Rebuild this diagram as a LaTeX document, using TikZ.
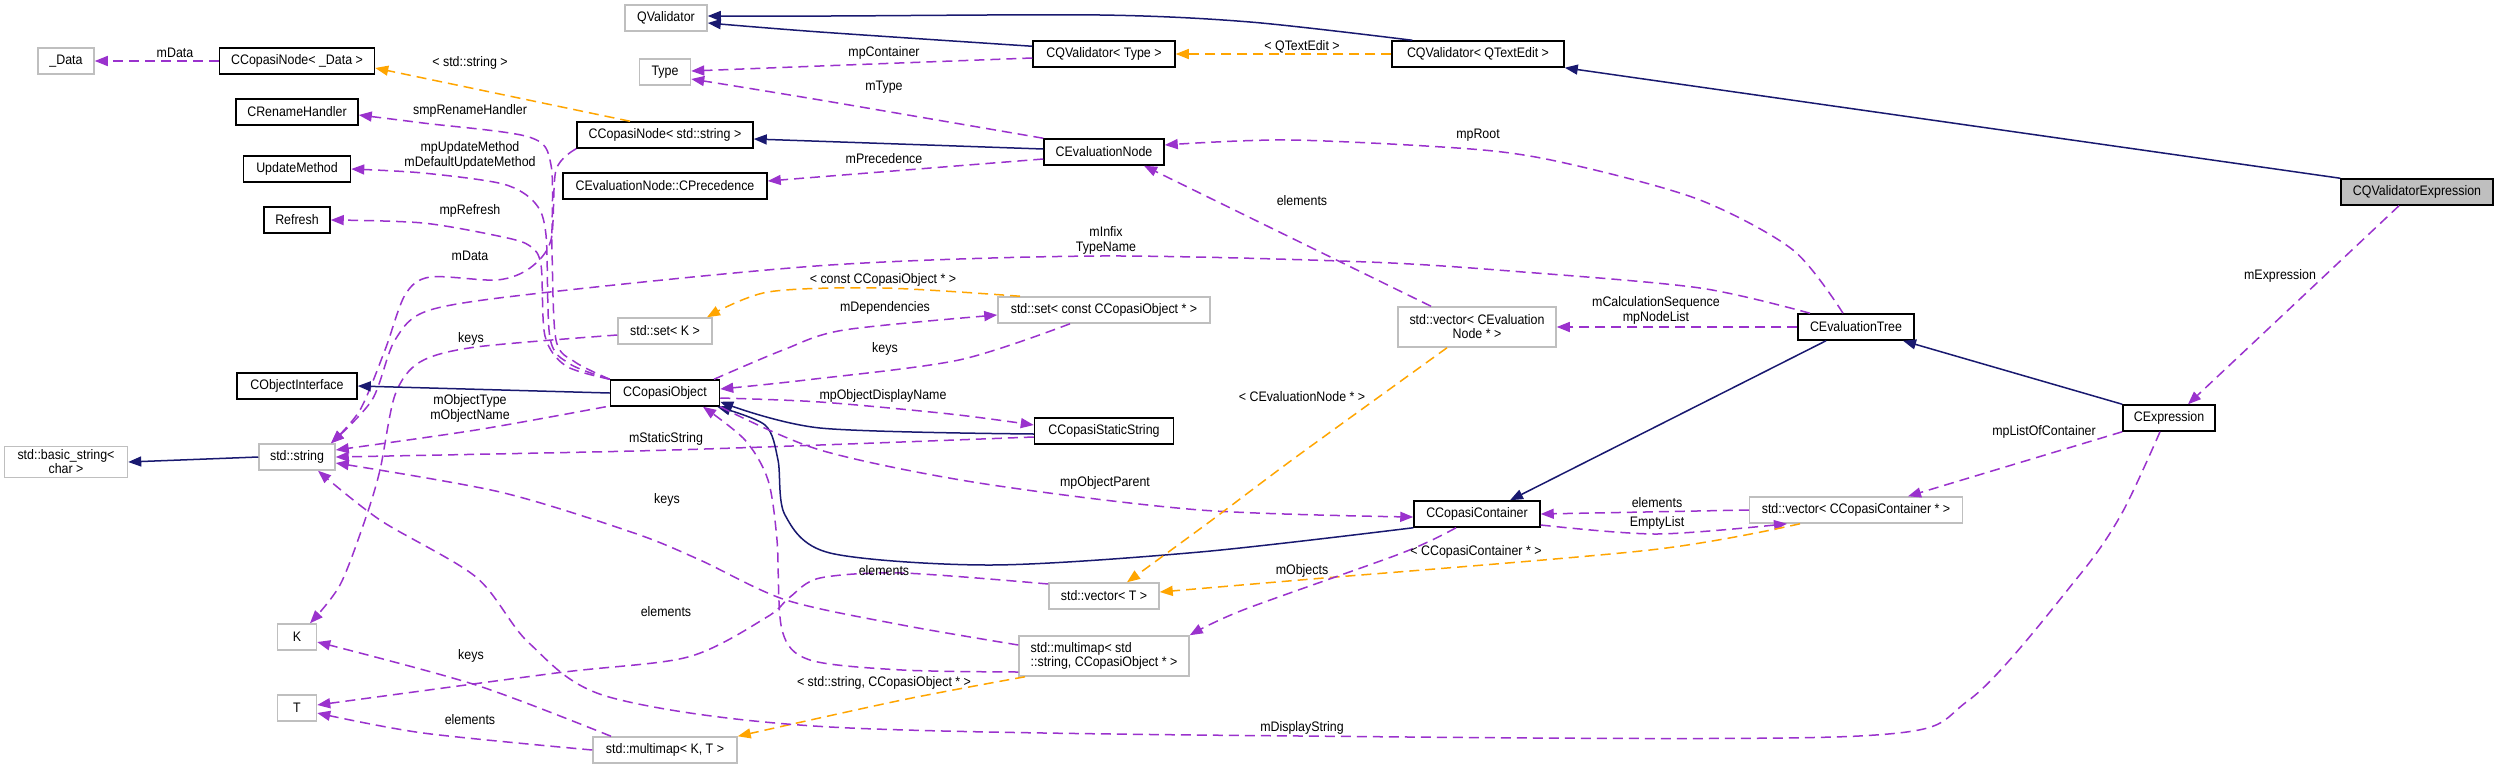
\documentclass[tikz,border=0pt]{standalone}
\usepackage{fontspec}
\setmainfont{Liberation Sans}[FakeStretch=0.9]
\usetikzlibrary{arrows.meta}
\definecolor{relc}{HTML}{9A32CD}
\definecolor{tplc}{HTML}{FFA500}
\definecolor{inhc}{HTML}{191970}
\definecolor{boxgray}{HTML}{BFBFBF}
\tikzset{
  box/.style={draw=black, line width=1.5pt, fill=white, minimum height=26pt, inner xsep=3pt, inner ysep=2pt, font=\fontsize{13.8}{14}\selectfont},
  ext/.style={box, draw=boxgray},
  hl/.style={box, fill=boxgray},
  lbl/.style={font=\fontsize{13.8}{15}\selectfont, align=center, inner sep=0pt},
  rel/.style={draw=relc, line width=1.5pt, dash pattern=on 10pt off 6pt, -{Triangle[length=13pt,width=10pt]}},
  tpl/.style={rel, draw=tplc},
  inh/.style={draw=inhc, line width=1.5pt, -{Triangle[length=13pt,width=10pt]}},
}
\begin{document}
\begin{tikzpicture}[x=1pt,y=-1pt]
\useasboundingbox[fill=white] (0,0) rectangle (2499,769);
% nodes
\node[ext, minimum width=56pt] (data) at (66,61) {\_Data};
\node[box, minimum width=155pt] (nodeData) at (297,61) {CCopasiNode< \_Data >};
\node[ext, minimum width=82pt] (qval) at (666,18) {QValidator};
\node[ext, minimum width=51pt] (type) at (665,72) {Type};
\node[box, minimum width=122pt] (rename) at (297,112) {CRenameHandler};
\node[box, minimum width=176pt] (nodeStr) at (665,135) {CCopasiNode< std::string >};
\node[box, minimum width=107pt] (update) at (297,169) {UpdateMethod};
\node[box, minimum width=204pt] (prec) at (665,186) {CEvaluationNode::CPrecedence};
\node[box, minimum width=66pt] (refresh) at (297,220) {Refresh};
\node[ext, minimum width=94pt] (setK) at (665,331) {std::set< K >};
\node[box, minimum width=120pt] (objif) at (297,386) {CObjectInterface};
\node[box, minimum width=109pt] (obj) at (665,393) {CCopasiObject};
\node[ext, minimum width=123pt, minimum height=31pt, align=center] (basic) at (66,462) {std::basic\_string<\\char >};
\node[ext, minimum width=76pt] (str) at (297,457) {std::string};
\node[ext, minimum width=39pt] (K) at (297,637) {K};
\node[ext, minimum width=39pt] (T) at (297,708) {T};
\node[ext, minimum width=144pt] (mmKT) at (665,750) {std::multimap< K, T >};
\node[box, minimum width=142pt] (qvType) at (1104,54) {CQValidator< Type >};
\node[box, minimum width=172pt] (qvText) at (1478,54) {CQValidator< QTextEdit >};
\node[box, minimum width=120pt] (evNode) at (1104,152) {CEvaluationNode};
\node[ext, minimum width=212pt] (setObj) at (1104,310) {std::set< const CCopasiObject * >};
\node[ext, minimum width=158pt, minimum height=40pt, align=center] (vecEv) at (1477,327) {std::vector< CEvaluation\\Node * >};
\node[box, minimum width=139pt] (stat) at (1104,431) {CCopasiStaticString};
\node[box, minimum width=126pt] (cont) at (1477,514) {CCopasiContainer};
\node[ext, minimum width=110pt] (vecT) at (1104,596) {std::vector< T >};
\node[ext, minimum width=170pt, minimum height=40pt, align=left] (mmStr) at (1104,656) {std::multimap< std\\::string, CCopasiObject * >};
\node[hl, minimum width=152pt] (qvExpr) at (2417,192) {CQValidatorExpression};
\node[box, minimum width=116pt] (evTree) at (1856,327) {CEvaluationTree};
\node[box, minimum width=92pt] (expr) at (2169,418) {CExpression};
\node[ext, minimum width=213pt] (vecCont) at (1856,510) {std::vector< CCopasiContainer * >};
% edges
\draw[rel] (nodeData.west) -- (data.east);
\draw[tpl] ([xshift=-35pt]nodeStr.north) -- ([yshift=-7pt]nodeData.east);
\draw[inh] plot[smooth] coordinates {([yshift=-6pt]qvType.north west) (820,32) ([yshift=-5pt]qval.east)};
\draw[inh] plot[smooth] coordinates {([xshift=21pt]qvText.north west) (1250,22) (1100,15) (830,16) ([yshift=2pt]qval.east)};
\draw[tpl] (qvText.west) -- (qvType.east);
\draw[inh] (qvExpr.north west) -- (qvText.south east);
\draw[rel] plot[smooth] coordinates {([yshift=-4pt]qvType.west) (820,66) ([yshift=1pt]type.east)};
\draw[rel] plot[smooth] coordinates {(evNode.north west) (820,100) ([yshift=-7pt]type.east)};
\draw[inh] ([yshift=3pt]evNode.west) -- ([yshift=-4pt]nodeStr.east);
\draw[rel] ([yshift=-7pt]evNode.west) -- ([yshift=5pt]prec.east);
\draw[rel] plot[smooth] coordinates {([xshift=-13pt]evTree.north) (1793,250) (1700,200) (1578,166) (1483,150) (1291,140) ([yshift=7pt]evNode.east)};
\draw[rel] ([xshift=-46pt]vecEv.north) -- ([xshift=40pt]evNode.south);
\draw[rel] (evTree.west) -- (vecEv.east);
\draw[rel] plot[smooth] coordinates {([xshift=-46pt]evTree.north) (1700,288) (1523,272) (1368,262) (1100,256) (830,265) (550,292) (430,310) (395,340) (372,400) ([xshift=34pt]str.north)};
\draw[rel] plot[smooth] coordinates {(nodeStr.south west) (556,170) (551,240) (530,268) (497,280) (430,277) (405,295) (385,350) (360,410) ([xshift=34pt]str.north)};
\draw[rel] plot[smooth] coordinates {([yshift=-4pt]setK.west) (476,347) (420,362) (395,395) (380,470) (365,520) (340,585) ([xshift=13pt]K.north)};
\draw[rel] plot[smooth] coordinates {(obj.north west) (575,362) (556,340) (552,250) (551,165) (529,137) (423,123) ([yshift=-3pt]rename.east)};
\draw[rel] plot[smooth] coordinates {(obj.north west) (570,364) (550,338) (546,235) (535,203) (503,184) (423,173) (update.east)};
\draw[rel] plot[smooth] coordinates {(obj.north west) (566,366) (545,336) (541,265) (530,246) (503,237) (423,223) (refresh.east)};
\draw[inh] (obj.west) -- (objif.east);
\draw[rel] plot[smooth] coordinates {([xshift=-4pt]obj.south west) (476,430) ([yshift=7pt]str.east)};
\draw[inh] (str.west) -- (basic.east);
\draw[rel] plot[smooth] coordinates {([yshift=-6pt]stat.west) (820,445) (635,451) (str.east)};
\draw[inh] plot[smooth] coordinates {([yshift=-3pt]stat.west) (820,428) ([yshift=5pt]obj.south east)};
\draw[rel] plot[smooth] coordinates {([yshift=-5pt]obj.east) (820,402) (950,414) ([yshift=6pt]stat.west)};
\draw[rel] plot[smooth] coordinates {([xshift=49pt]obj.north) (783,350) (844,330) ([yshift=-5pt]setObj.west)};
\draw[rel] plot[smooth] coordinates {([xshift=-34pt]setObj.south) (959,360) (806,380) ([yshift=4pt]obj.east)};
\draw[tpl] plot[smooth] coordinates {([xshift=-84pt]setObj.north) (883,288) (768,292) ([xshift=42pt]setK.north)};
\draw[inh] plot[smooth] coordinates {(cont.south west) (1200,552) (991,565) (830,553) (785,515) (778,460) (765,425) ([xshift=-3pt]obj.south east)};
\draw[inh] ([xshift=-30pt]evTree.south) -- ([xshift=33pt]cont.north);
\draw[inh] (expr.north west) -- ([xshift=47pt]evTree.south);
\draw[rel] ([xshift=-18pt]qvExpr.south) -- ([xshift=19pt]expr.north);
\draw[rel] (expr.south west) -- ([xshift=52pt]vecCont.north);
\draw[rel] (vecCont.west) -- (cont.east);
\draw[rel] plot[smooth] coordinates {([yshift=-11pt]cont.east) (1657,534) ([xshift=-69pt]vecCont.south)};
\draw[tpl] plot[smooth] coordinates {([xshift=-56pt]vecCont.south) (1650,550) (1300,580) ([yshift=4pt]vecT.east)};
\draw[rel] plot[smooth] coordinates {([xshift=-21pt]cont.south) (1402,553) (1243,610) (mmStr.north east)};
\draw[rel] plot[smooth] coordinates {(obj.south east) (820,450) (979,483) (1200,510) ([yshift=-3pt]cont.west)};
\draw[tpl] plot[smooth] coordinates {([xshift=-30pt]vecEv.south) (1296,457) (1212,520) ([xshift=23pt]vecT.north)};
\draw[rel] plot[smooth] coordinates {([yshift=12pt]vecT.west) (902,573) (820,578) (790,597) (767,617) (688,657) (556,673) ([yshift=3pt]T.east)};
\draw[rel] plot[smooth] coordinates {(mmKT.west) (423,733) ([yshift=-5pt]T.east)};
\draw[rel] plot[smooth] coordinates {([xshift=-54pt]mmKT.north) (476,685) ([yshift=-5pt]K.east)};
\draw[tpl] plot[smooth] coordinates {([xshift=-79pt]mmStr.south) (902,700) (mmKT.north east)};
\draw[rel] plot[smooth] coordinates {([yshift=11pt]mmStr.west) (902,625) (786,600) (700,560) (634,533) (500,492) ([yshift=-6pt]str.east)};
\draw[rel] plot[smooth] coordinates {([yshift=-16pt]mmStr.west) (902,670) (810,660) (782,630) (777,540) (768,480) (745,440) ([xshift=38pt]obj.south)};
\draw[rel] plot[smooth] coordinates {([xshift=-9pt]expr.south) (2122,513) (2078,577) (1969,700) (1859,736) (1300,736) (830,727) (609,697) (529,643) (476,577) (380,520) ([xshift=21pt]str.south)};
% labels
\node[lbl] (l1) at (175,53) {mData};
\node[lbl] (l2) at (470,63) {< std::string >};
\node[lbl] (l3) at (470,111) {smpRenameHandler};
\node[lbl] (l4) at (470,155) {mpUpdateMethod\\mDefaultUpdateMethod};
\node[lbl] (l5) at (470,211) {mpRefresh};
\node[lbl] (l6) at (470,256) {mData};
\node[lbl] (l7) at (471,339) {keys};
\node[lbl] (l8) at (470,408) {mObjectType\\mObjectName};
\node[lbl] (l9) at (666,439) {mStaticString};
\node[lbl] (l10) at (667,500) {keys};
\node[lbl] (l11) at (666,612) {elements};
\node[lbl] (l12) at (471,656) {keys};
\node[lbl] (l13) at (470,720) {elements};
\node[lbl] (l14) at (884,683) {< std::string, CCopasiObject * >};
\node[lbl] (l15) at (884,53) {mpContainer};
\node[lbl] (l16) at (884,87) {mType};
\node[lbl] (l17) at (884,159) {mPrecedence};
\node[lbl] (l18) at (883,280) {< const CCopasiObject * >};
\node[lbl] (l19) at (885,308) {mDependencies};
\node[lbl] (l20) at (885,349) {keys};
\node[lbl] (l21) at (883,396) {mpObjectDisplayName};
\node[lbl] (l22) at (884,571) {elements};
\node[lbl] (l23) at (1302,47) {< QTextEdit >};
\node[lbl] (l24) at (1478,135) {mpRoot};
\node[lbl] (l25) at (1302,201) {elements};
\node[lbl] (l26) at (1106,240) {mInfix\\TypeName};
\node[lbl] (l27) at (1302,397) {< CEvaluationNode * >};
\node[lbl] (l28) at (1105,483) {mpObjectParent};
\node[lbl] (l29) at (1302,571) {mObjects};
\node[lbl] (l30) at (1476,552) {< CCopasiContainer * >};
\node[lbl] (l31) at (1302,728) {mDisplayString};
\node[lbl] (l32) at (1656,310) {mCalculationSequence\\mpNodeList};
\node[lbl] (l33) at (1657,503) {elements};
\node[lbl] (l34) at (1657,523) {EmptyList};
\node[lbl] (l35) at (2280,276) {mExpression};
\node[lbl] (l36) at (2044,432) {mpListOfContainer};
\end{tikzpicture}
\end{document}
